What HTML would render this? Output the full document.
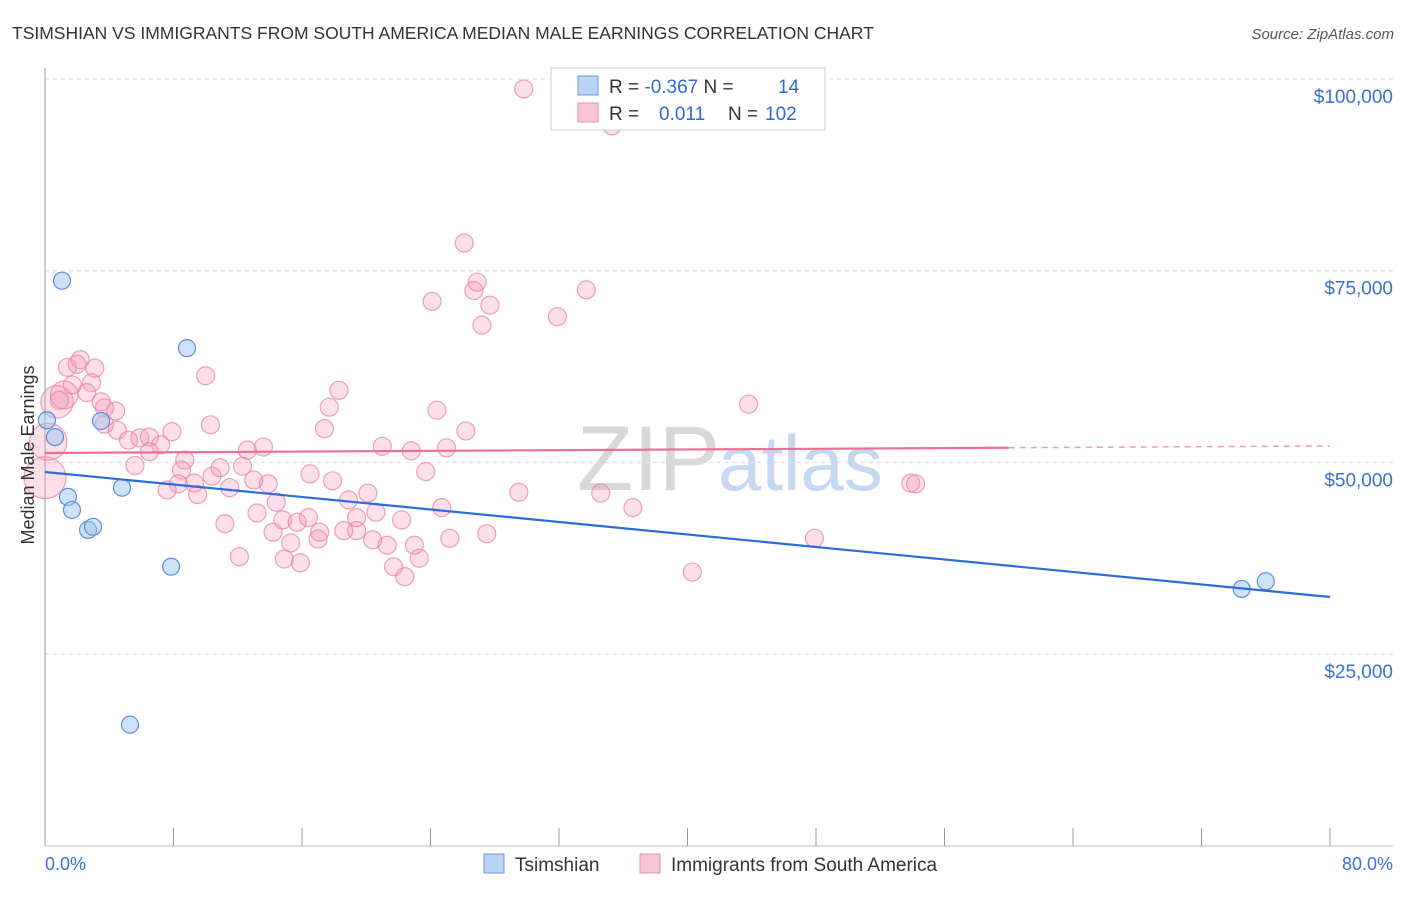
<!DOCTYPE html>
<html><head><meta charset="utf-8"><style>
body{margin:0;background:#fff;font-family:"Liberation Sans",sans-serif}
svg text{font-family:"Liberation Sans",sans-serif}
</style></head><body>
<svg id="c" width="1406" height="892" xmlns="http://www.w3.org/2000/svg">
<text x="12" y="39" font-size="17.5" fill="#333">TSIMSHIAN VS IMMIGRANTS FROM SOUTH AMERICA MEDIAN MALE EARNINGS CORRELATION CHART</text>
<text x="1394" y="39" font-size="15" fill="#555" font-style="italic" text-anchor="end">Source: ZipAtlas.com</text>
<text x="720" y="490" font-size="92" fill="#d8d8d8" text-anchor="end" font-family="Liberation Serif">ZIP</text>
<text x="718" y="490" font-size="78" fill="#c5d8ef">atlas</text>
<g id="grid"></g><g id="axes"></g><g id="pts"></g><g id="trend"></g>
<text transform="translate(34,455) rotate(-90)" font-size="18" fill="#333" text-anchor="middle">Median Male Earnings</text>
<text x="45" y="870" font-size="18" fill="#3a72d0">0.0%</text>
<text x="1393" y="870" font-size="18" fill="#3a72d0" text-anchor="end">80.0%</text>
<g>
<rect x="551" y="68" width="274" height="62" fill="#fff" stroke="#ccc"/>
<rect x="578" y="76" width="20" height="19" fill="#b8d3f5" stroke="#6a9ad8"/>
<rect x="578" y="103" width="20" height="19" fill="#f9c6d6" stroke="#e891ae"/>
<text x="609" y="93" font-size="19" fill="#333">R = <tspan fill="#2e6bd0">-0.367</tspan>   N =  <tspan fill="#2e6bd0" x="778">14</tspan></text>
<text x="609" y="120" font-size="19" fill="#333">R = <tspan fill="#2e6bd0" x="659">0.011</tspan><tspan x="728">N = </tspan><tspan fill="#2e6bd0" x="765">102</tspan></text>
</g>
<g>
<rect x="484" y="854" width="20" height="19" fill="#b8d3f5" stroke="#6a9ad8"/>
<text x="515" y="871" font-size="19" fill="#333">Tsimshian</text>
<rect x="640" y="854" width="20" height="19" fill="#f9c6d6" stroke="#e891ae"/>
<text x="671" y="871" font-size="19" fill="#333">Immigrants from South America</text>
</g>
</svg>
<script>
const yTicks=[25000,50000,75000,100000];
const yTickLabels=["$25,000","$50,000","$75,000","$100,000"];
const blueX=[0.12,0.62,1.06,1.43,1.68,2.68,2.99,3.49,4.79,7.85,8.84,5.29,74.5,76.0];
const blueY=[55500,53300,73700,45500,43800,41200,41600,55400,46700,36400,64900,15800,33500,34500];
const pinkX=[0,0.2,0.75,1.2,29.8,35.3,26.1,26.9,26.7,24.1,27.7,31.9,27.2,33.7,1.4,2.2,3.1,2.0,10.0,1.7,2.9,0.9,2.6,3.5,4.4,3.7,3.7,4.5,5.2,5.9,6.5,7.2,7.9,6.5,5.6,10.3,18.3,17.7,17.4,24.4,26.2,21.0,22.8,25.0,43.8,12.6,13.6,8.7,8.5,12.3,7.6,8.3,9.3,9.5,10.4,10.9,11.5,13.0,13.9,14.4,16.5,17.9,18.9,20.1,23.7,24.7,29.5,34.6,36.6,53.9,54.2,11.2,13.2,14.8,15.7,16.4,14.2,15.3,17.0,17.1,18.6,19.4,20.6,19.4,20.4,21.3,22.2,23.0,25.2,27.5,12.1,14.9,15.9,21.7,22.4,23.3,40.3,47.9];
const pinkY=[48000,52700,57900,58800,98700,93900,78600,73500,72400,71000,70500,69000,67900,72500,62400,63400,62300,62800,61300,60100,60400,58100,59100,57900,56700,57100,55000,54200,52900,53200,53300,52300,54000,51400,49600,54900,59400,57200,54400,56800,54100,52100,51500,51900,57600,51600,52000,50300,49000,49500,46400,47200,47300,45800,48200,49300,46700,47700,47200,44800,48500,47600,45100,46000,48800,44100,46100,46000,44100,47300,47200,42000,43400,42500,42200,42800,40900,39500,40000,40900,41100,42800,43500,41100,39900,39200,42500,39200,40100,40700,37700,37400,36900,36400,35100,37500,35700,40100];
const pinkWeight=[5,4,3,2];
const blueTrend=[48750,32450];
const pinkTrend=[51230,52140];
const pinkSolidEnd=60;
const NS="http://www.w3.org/2000/svg";
const X=v=>45+v/80*1285, Y=v=>845.8-v/25000*191.7;
function mk(t,a,p){const e=document.createElementNS(NS,t);for(const k in a)e.setAttribute(k,a[k]);p.appendChild(e);return e;}
const g=document.getElementById('grid'),ax=document.getElementById('axes'),pts=document.getElementById('pts'),tr=document.getElementById('trend');
yTicks.forEach((v,i)=>{
 const l=mk('line',{x1:45,x2:1393,y1:Y(v),y2:Y(v),stroke:'#ddd','stroke-dasharray':'4,4'},g);
 
 
 const t=mk('text',{x:1393,y:Y(v)+24,'font-size':19,fill:'#3a72d0','text-anchor':'end'},g);
 t.textContent=yTickLabels[i];
 
 
});
const a1=mk('line',{x1:45,x2:45,y1:68,y2:846,stroke:'#999'},ax);


const a2=mk('line',{x1:45,x2:1393,y1:846,y2:846,stroke:'#bbb'},ax);


for(let k=0;k<=10;k++){const t=mk('line',{x1:X(k*8),x2:X(k*8),y1:828,y2:846,stroke:'#999'},ax);
 
 }
pinkX.forEach((x,i)=>{const r=i<pinkWeight.length?9+pinkWeight[i]*2.4:9;
 const c=mk('circle',{cx:X(x),cy:Y(pinkY[i]),r:r,fill:'rgba(244,150,182,0.3)',stroke:'rgba(230,130,165,0.75)','stroke-width':1.2},pts);
 
 });
blueX.forEach((x,i)=>{
 const c=mk('circle',{cx:X(x),cy:Y(blueY[i]),r:8.5,fill:'rgba(160,196,240,0.5)',stroke:'#5b8fd9','stroke-width':1.2},pts);
 
 });
const bl=mk('line',{x1:X(0),y1:Y(blueTrend[0]),x2:X(80),y2:Y(blueTrend[1]),stroke:'#2a6dd9','stroke-width':2.2},tr);


const pm=pinkTrend[0]+(pinkTrend[1]-pinkTrend[0])*pinkSolidEnd/80;
const pl=mk('line',{x1:X(0),y1:Y(pinkTrend[0]),x2:X(pinkSolidEnd),y2:Y(pm),stroke:'#ee6f96','stroke-width':2.2},tr);


const pd=mk('line',{x1:X(pinkSolidEnd),y1:Y(pm),x2:X(80),y2:Y(pinkTrend[1]),stroke:'#ee9ab5','stroke-width':1.5,'stroke-dasharray':'6,5'},tr);


</script>
</body></html>
